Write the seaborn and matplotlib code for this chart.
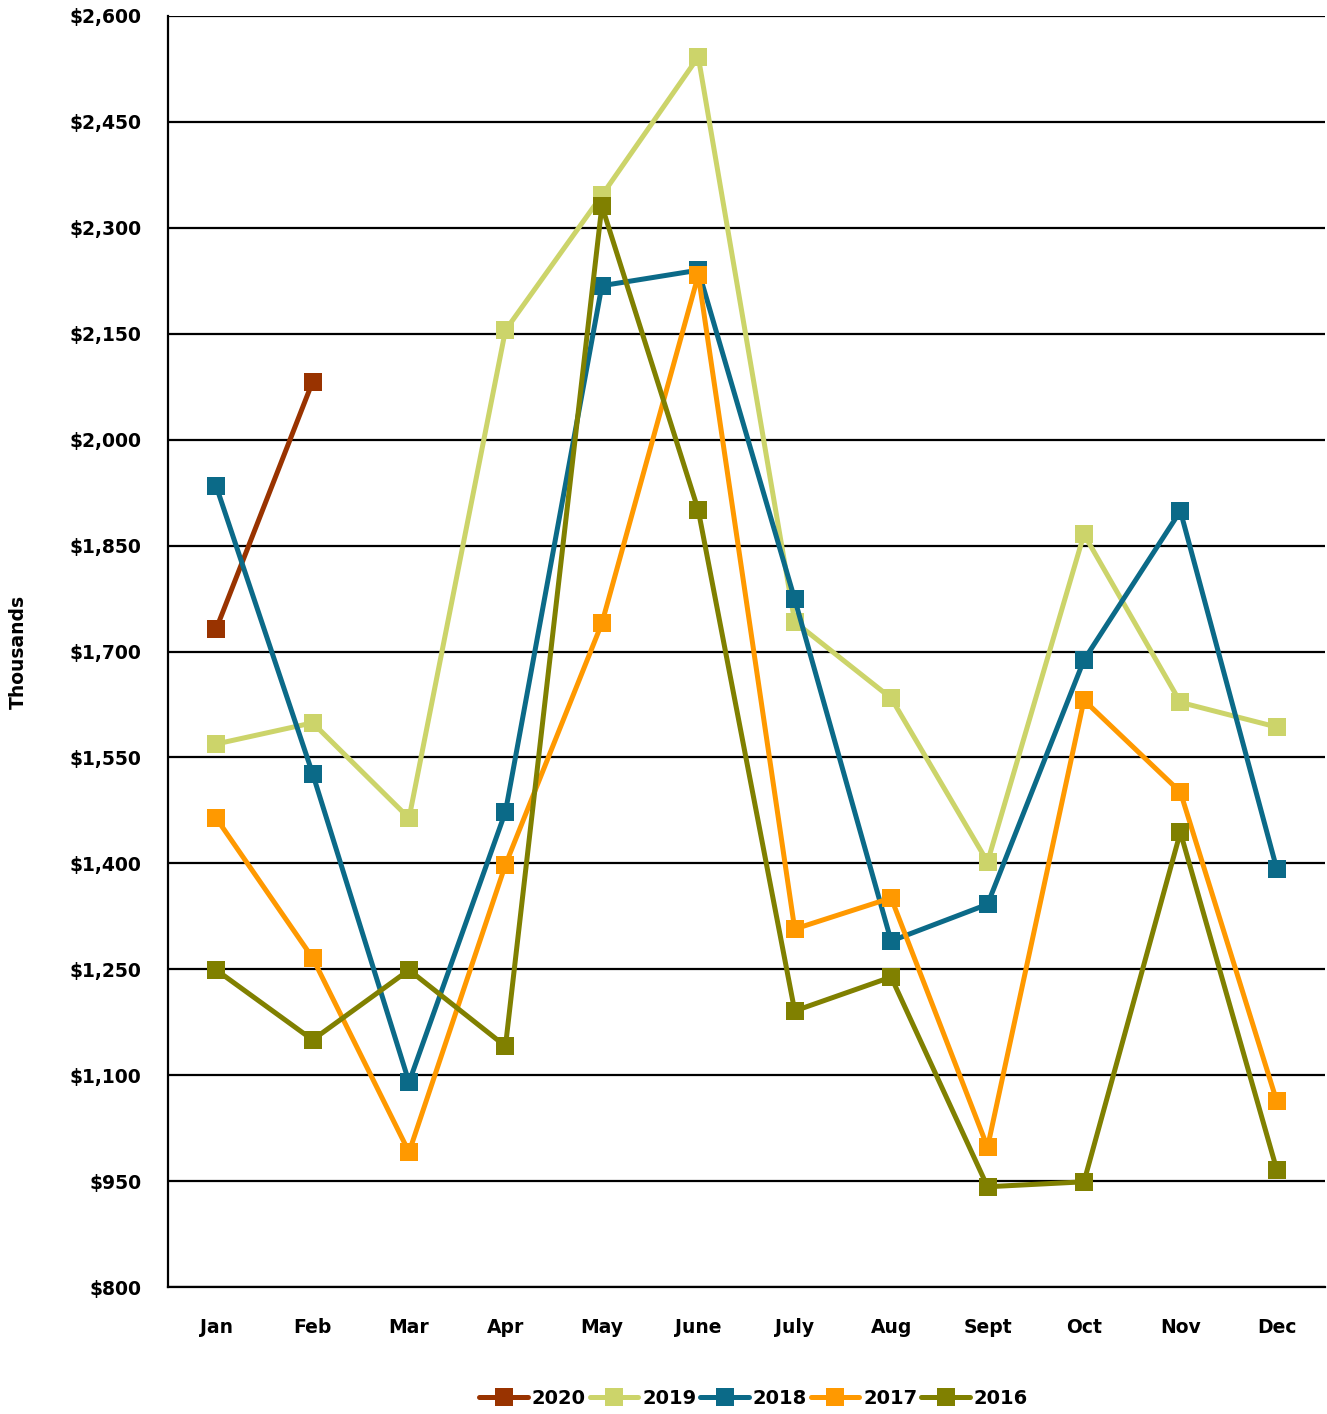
import matplotlib
matplotlib.use("Agg")
import matplotlib.pyplot as plt
import pandas as pd
import seaborn as sns

months = ["Jan", "Feb", "Mar", "Apr", "May", "June", "July", "Aug", "Sept", "Oct", "Nov", "Dec"]
years = ["2020", "2019", "2018", "2017", "2016"]

sales_2020 = [1732, 2082]
sales_2019 = [1569, 1599, 1464, 2155, 2346, 2542, 1742, 1634, 1402, 1866, 1628, 1593]
sales_2018 = [1934, 1527, 1090, 1473, 2218, 2240, 1774, 1290, 1342, 1688, 1899, 1392]
sales_2017 = [1464, 1266, 991, 1398, 1740, 2233, 1307, 1351, 998, 1631, 1501, 1063]
sales_2016 = [1249, 1150, 1249, 1141, 2331, 1900, 1191, 1239, 942, 949, 1444, 966]

colors = ["#993300", "#CCD46A", "#0B6A88", "#FF9900", "#808000"]

y_ticks = list(range(800, 2601, 150))

series = dict(zip(years, [sales_2020, sales_2019, sales_2018, sales_2017, sales_2016]))
rows = []
for yr, vals in series.items():
    for i, v in enumerate(vals):
        rows.append({"month": i, "value": v, "year": yr})
df = pd.DataFrame(rows)

sns.set_style("white")
plt.rcParams["font.family"] = ["DejaVu Sans"]
plt.rcParams["font.weight"] = "bold"
plt.rcParams["text.color"] = "black"
plt.rcParams["axes.labelcolor"] = "black"
plt.rcParams["xtick.color"] = "black"
plt.rcParams["ytick.color"] = "black"

fig = plt.figure(figsize=(13.27, 14.14), dpi=100)
ax = fig.add_axes([0.1266, 0.0898, 0.8719, 0.8989])

for y in y_ticks:
    ax.axhline(y, color="black", lw=1.6, zorder=1)

sns.lineplot(data=df, x="month", y="value", hue="year", hue_order=years,
             palette=dict(zip(years, colors)), marker="s", markersize=13,
             markeredgewidth=0, linewidth=3.6, sort=False, ax=ax,
             legend=True, zorder=3)

ax.set_xlim(-0.5, 11.5)
ax.set_ylim(800, 2600)
ax.set_yticks(y_ticks)
ax.set_yticklabels([f"${v:,}" for v in y_ticks], fontsize=13.5, fontweight="bold")
ax.set_xticks(range(12))
ax.set_xticklabels(months, fontsize=13.5, fontweight="bold")
ax.set_xticks([i - 0.5 for i in range(13)], minor=True)
ax.tick_params(axis="x", which="major", length=0, pad=22)
ax.tick_params(axis="x", which="minor", length=6, width=1.6, direction="out", color="black")
ax.tick_params(axis="y", which="major", length=6, width=1.6, direction="out", color="black", pad=13)
ax.set_xlabel("")
ax.set_ylabel("Thousands", fontsize=13.5, fontweight="bold", labelpad=30)

for side in ["top", "right"]:
    ax.spines[side].set_visible(False)
for side in ["left", "bottom"]:
    ax.spines[side].set_color("black")
    ax.spines[side].set_linewidth(1.6)

handles, labels = ax.get_legend_handles_labels()
ax.get_legend().remove()
fig.legend(handles, labels, loc="center", bbox_to_anchor=(0.568, 0.011), ncol=5,
           frameon=False, handlelength=2.5, handletextpad=0.2, columnspacing=0.2,
           prop={"size": 14, "weight": "bold"})

fig.savefig("out.png", dpi=100)
